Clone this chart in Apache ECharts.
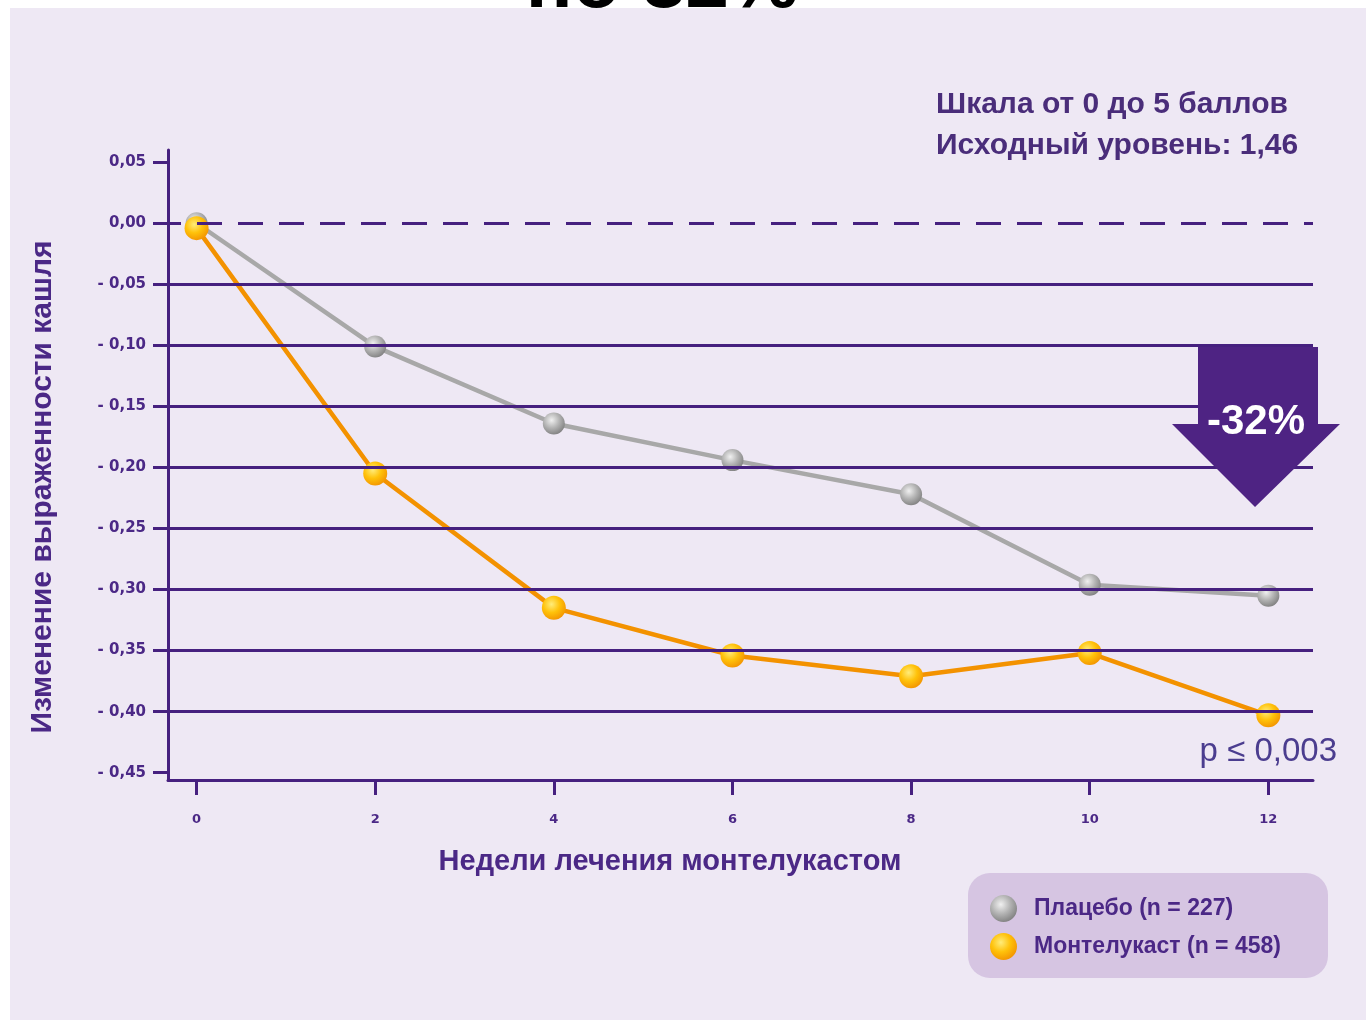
<!DOCTYPE html>
<html>
<head>
<meta charset="utf-8">
<title>Изменение выраженности кашля</title>
<script src="https://cdn.jsdelivr.net/npm/echarts@6/dist/echarts.min.js"></script>
<style>
  html, body { margin: 0; padding: 0; background: #ffffff; }
  #chart { width: 1366px; height: 1021px; }
</style>
</head>
<body>
<div id="chart"></div>
<script>
// Weeks of treatment
const weeks = [0, 2, 4, 6, 8, 10, 12];
// Mean change of cough score from baseline
const placebo = [0.000, -0.101, -0.164, -0.194, -0.222, -0.296, -0.305];
const montelukast = [-0.004, -0.205, -0.315, -0.354, -0.371, -0.352, -0.403];
// Y ticks / reference lines
const yTicks = [0.05, 0.00, -0.05, -0.10, -0.15, -0.20, -0.25, -0.30, -0.35, -0.40, -0.45];
const gridValues = [-0.05, -0.10, -0.15, -0.20, -0.25, -0.30, -0.35, -0.40];
const zeroLine = 0.00;

const seriesNames = ['Плацебо (n = 227)', 'Монтелукаст (n = 458)'];
const purple = '#46207f';
const textPurple = '#4b2886';

function fmtY(v) {
  const s = Math.abs(v).toFixed(2).replace('.', ',');
  return v < -1e-9 ? '- ' + s : s;
}

const grayBall = new echarts.graphic.RadialGradient(0.4, 0.35, 0.7, [
  { offset: 0, color: '#f0f0f0' },
  { offset: 0.5, color: '#b4b4b4' },
  { offset: 1, color: '#7e7e7e' }
]);
const orangeBall = new echarts.graphic.RadialGradient(0.4, 0.35, 0.7, [
  { offset: 0, color: '#ffec7a' },
  { offset: 0.5, color: '#ffc20a' },
  { offset: 1, color: '#f29200' }
]);

const chart = echarts.init(document.getElementById('chart'), null, { renderer: 'canvas' });

chart.setOption({
  backgroundColor: '#ffffff',
  animation: false,
  grid: { left: 168, right: 53, top: 150, bottom: 241, containLabel: false },
  xAxis: {
    type: 'value',
    min: -0.32,
    max: 12.5,
    axisLine: { show: true, onZero: false, lineStyle: { color: purple, width: 3 } },
    axisTick: { show: true, customValues: weeks, length: 15, lineStyle: { color: purple, width: 3 } },
    axisLabel: {
      customValues: weeks,
      margin: 33,
      color: textPurple,
      fontFamily: 'DejaVu Sans',
      fontWeight: 'bold',
      fontSize: 13
    },
    splitLine: { show: false }
  },
  yAxis: {
    type: 'value',
    min: -0.456,
    max: 0.06,
    axisLine: { show: true, onZero: false, lineStyle: { color: purple, width: 3 } },
    axisTick: { show: true, customValues: yTicks, length: 15, lineStyle: { color: purple, width: 3 } },
    axisLabel: {
      customValues: yTicks,
      formatter: fmtY,
      margin: 22,
      color: textPurple,
      fontFamily: 'DejaVu Sans',
      fontWeight: 'bold',
      fontSize: 15
    },
    splitLine: { show: false }
  },
  legend: {
    orient: 'vertical',
    left: 985,
    top: 890,
    z: 10,
    icon: 'circle',
    itemWidth: 27,
    itemHeight: 27,
    itemGap: 11,
    data: seriesNames,
    textStyle: {
      color: textPurple,
      fontFamily: 'Liberation Sans',
      fontWeight: 'bold',
      fontSize: 23,
      padding: [0, 0, 0, 12]
    }
  },
  series: [
    {
      // horizontal reference lines
      type: 'line',
      data: [],
      z: 1,
      silent: true,
      markLine: {
        silent: true,
        symbol: ['none', 'none'],
        label: { show: false },
        data: gridValues.map(v => ({ yAxis: v, lineStyle: { color: purple, width: 3, type: 'solid' } }))
          .concat([{ yAxis: zeroLine, lineStyle: { color: purple, width: 3, type: [25, 16], dashOffset: 12 } }])
      }
    },
    {
      name: seriesNames[0],
      type: 'line',
      z: 3,
      data: weeks.map((w, i) => [w, placebo[i]]),
      symbol: 'circle',
      symbolSize: 22,
      lineStyle: { color: '#a8a8a8', width: 4.5 },
      itemStyle: { color: grayBall, borderWidth: 0 }
    },
    {
      name: seriesNames[1],
      type: 'line',
      z: 4,
      data: weeks.map((w, i) => [w, montelukast[i]]),
      symbol: 'circle',
      symbolSize: 24,
      lineStyle: { color: '#f39200', width: 4.5 },
      itemStyle: { color: orangeBall, borderWidth: 0 }
    }
  ],
  graphic: [
    {
      type: 'text', z: -20, silent: true,
      style: {
        x: 662, y: 24, text: 'по 32%', align: 'center', verticalAlign: 'bottom',
        font: 'bold 78px "Liberation Sans", Arial, sans-serif', fill: '#000000'
      }
    },
    {
      type: 'rect', z: -10, silent: true,
      shape: { x: 10, y: 8, width: 1356, height: 1012 },
      style: { fill: '#eee8f4' }
    },
    {
      type: 'text', silent: true,
      style: {
        x: 936, y: 105, text: 'Шкала от 0 до 5 баллов', align: 'left', verticalAlign: 'middle',
        font: 'bold 30px "Liberation Sans", Arial, sans-serif', fill: '#4a2d7a'
      }
    },
    {
      type: 'text', silent: true,
      style: {
        x: 936, y: 146, text: 'Исходный уровень: 1,46', align: 'left', verticalAlign: 'middle',
        font: 'bold 30px "Liberation Sans", Arial, sans-serif', fill: '#4a2d7a'
      }
    },
    {
      type: 'text', silent: true,
      x: 43, y: 487, rotation: Math.PI / 2,
      style: {
        x: 0, y: 0, text: 'Изменение выраженности кашля', align: 'center', verticalAlign: 'middle',
        font: 'bold 30px "Liberation Sans", Arial, sans-serif', fill: textPurple
      }
    },
    {
      type: 'text', silent: true,
      style: {
        x: 670, y: 862, text: 'Недели лечения монтелукастом', align: 'center', verticalAlign: 'middle',
        font: 'bold 29px "Liberation Sans", Arial, sans-serif', fill: textPurple
      }
    },
    {
      // down arrow
      type: 'polygon', z: 50, silent: true,
      shape: { points: [[1198, 347], [1318, 347], [1318, 424], [1340, 424], [1255, 507], [1172, 424], [1198, 424]] },
      style: { fill: '#4e2383' }
    },
    {
      type: 'text', z: 51, silent: true,
      style: {
        x: 1256, y: 422, text: '-32%', align: 'center', verticalAlign: 'middle',
        font: 'bold 42px "Liberation Sans", Arial, sans-serif', fill: '#ffffff'
      }
    },
    {
      type: 'text', z: 50, silent: true,
      style: {
        x: 1337, y: 752, text: 'p ≤ 0,003', align: 'right', verticalAlign: 'middle',
        font: '33px "Liberation Sans", Arial, sans-serif', fill: '#4b3d8f'
      }
    },
    {
      type: 'rect', z: 3, silent: true,
      shape: { x: 968, y: 873, width: 360, height: 105, r: 22 },
      style: { fill: '#d6c5e2' }
    }
  ]
});
</script>
</body>
</html>
